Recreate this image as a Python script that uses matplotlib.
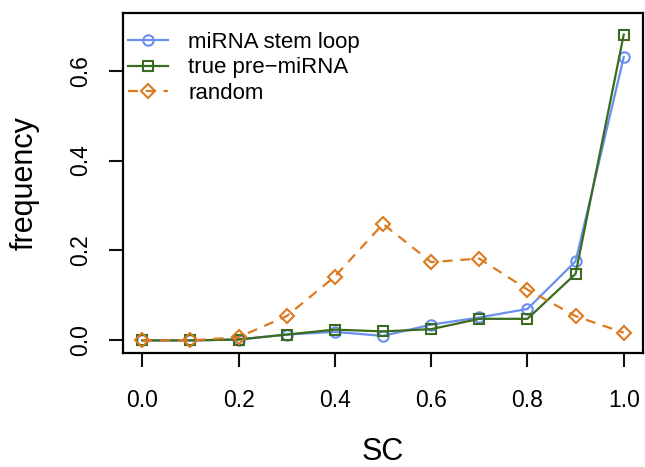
import matplotlib
matplotlib.use("Agg")
import matplotlib.pyplot as plt

plt.rcParams['font.family'] = ['Liberation Sans', 'DejaVu Sans']

sc = [0.0, 0.1, 0.2, 0.3, 0.4, 0.5, 0.6, 0.7, 0.8, 0.9, 1.0]
stem_loop = [0.0, 0.0, 0.002, 0.013, 0.019, 0.010, 0.035, 0.051, 0.070, 0.176, 0.630]
true_pre = [0.0, 0.0, 0.002, 0.013, 0.024, 0.020, 0.025, 0.048, 0.048, 0.148, 0.680]
random_seq = [0.0, 0.0, 0.007, 0.054, 0.142, 0.259, 0.174, 0.182, 0.113, 0.054, 0.017]

x_ticks = [0.0, 0.2, 0.4, 0.6, 0.8, 1.0]
y_ticks = [0.0, 0.2, 0.4, 0.6]

fig = plt.figure(figsize=(6.45, 4.67), dpi=100)
ax = fig.add_axes([123 / 645, 1 - 353 / 467, (643 - 123) / 645, (353 - 13) / 467])

ax.plot(sc, stem_loop, color='#6b8ff0', lw=1.6, marker='o', ms=7.5,
        mfc='none', mew=1.5, label='miRNA stem loop')
ax.plot(sc, true_pre, color='#3a6b1e', lw=1.6, marker='s', ms=7.5,
        mfc='none', mew=1.5, label='true pre\u2212miRNA')
ax.plot(sc, random_seq, color='#dd7a1f', lw=1.6, ls=(0, (4.5, 3.5)), marker='D', ms=7.5,
        mfc='none', mew=1.5, label='random')

ax.set_xlim(-0.04, 1.04)
ax.set_ylim(-0.028, 0.728)
ax.set_xticks(x_ticks)
ax.set_xticklabels(['%.1f' % v for v in x_ticks])
ax.set_yticks(y_ticks)
ax.set_yticklabels(['%.1f' % v for v in y_ticks], rotation=90, va='center')

ax.tick_params(axis='both', direction='out', length=10, width=1.5, labelsize=16.5, color='#111111')
ax.tick_params(axis='x', pad=16)
ax.tick_params(axis='y', pad=12)
for s in ax.spines.values():
    s.set_linewidth(1.6)

ax.set_xlabel('SC', fontsize=22)
ax.set_ylabel('frequency', fontsize=22)
ax.xaxis.set_label_coords(0.5, -0.248)
ax.yaxis.set_label_coords((40 - 123) / 520, 0.5)

ax.legend(loc='upper left', frameon=False, fontsize=16, handlelength=1.8,
          handletextpad=0.9, labelspacing=0.2, borderpad=0, borderaxespad=0,
          bbox_to_anchor=(5 / 520, 1 - 19 / 340))

fig.savefig('out.png', dpi=100)
